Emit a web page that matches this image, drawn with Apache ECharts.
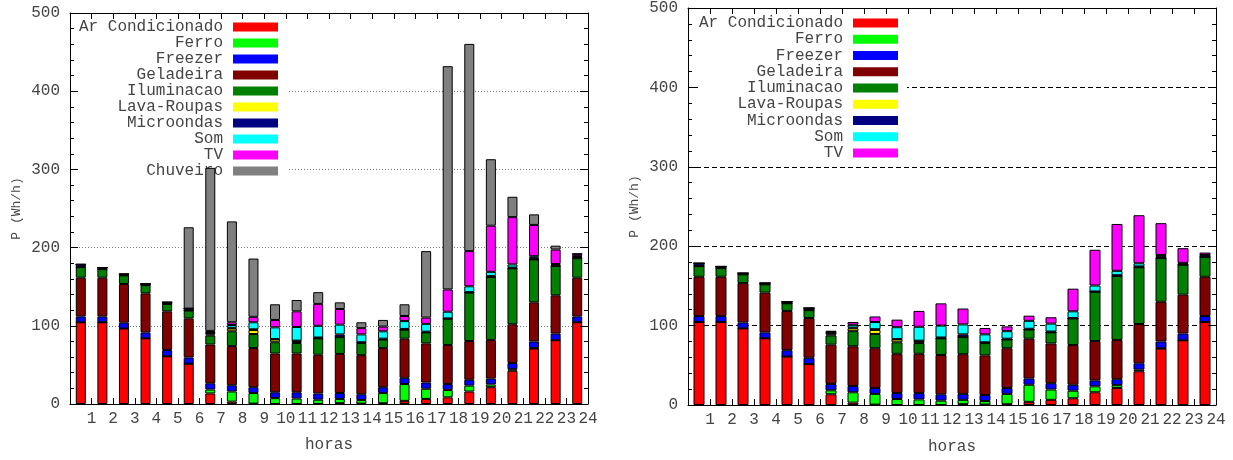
<!DOCTYPE html>
<html><head><meta charset="utf-8">
<script src="https://cdn.jsdelivr.net/npm/echarts@6/dist/echarts.min.js"></script>
<style>html,body{margin:0;padding:0;background:#fff}#c{width:1233px;height:460px}</style>
</head><body><div id="c"></div>
<script>
// ---- data ----
const hours = ['1','2','3','4','5','6','7','8','9','10','11','12','13','14','15','16','17','18','19','20','21','22','23','24'];
const yTicks = [0, 100, 200, 300, 400, 500];
const arCondicionado = [104.5,104.5,96.5,84,61,51.5,13.5,3,0.5,0,0,0,1,0.5,1,4,6.5,8.5,16,21.5,42.5,71,81.5,104.5];
const ferro          = [0,0,0,0,0,0,5,13,13.5,7.5,7,5.5,5.5,4.5,13,21.5,13,9.5,7.5,3.5,2,0.5,0,0];
const freezer        = [7.5,7.5,7.5,7.5,8,8,8,8,7.5,7.5,8,8,7.5,7.5,7.5,8,8,7.5,7.5,7.5,8,8.5,8.5,7.5];
const geladeira      = [49.5,49.5,49.5,50,49.5,50,49.5,50,50,49.5,49.5,49.5,50,50,50,50,50,50,49.5,49.5,49.5,50,49,49.5];
const iluminacao     = [13.5,11,11,10.5,9.5,10,11.5,19,18,14.5,13.5,21,21.5,15.5,11,11.5,14,33.5,62,80.5,71.5,55,37.5,25];
const lavaRoupas     = [0,0,0,0,0,0,1.5,3.5,5,3.5,2.5,0,0,0.5,0,0,0,0,0,0,0,0,0,0];
const microondas     = [3.5,2,1.5,1.5,2,2.5,2.5,1,1,0.5,0.5,1,3.5,0.5,1,1,1,0.5,0.5,1,1,1.5,1.5,2];
const som            = [0,0,0,0,0,0,0.5,3.5,9,15,17.5,15,12.5,10,9.5,10,10,8.5,7.5,5.5,4,2.5,1,0.5];
const tv             = [0,0,0,0,0,0,1.5,3.5,7,9.5,20,28,20,8,6,6.5,8,28.5,45,59,60.5,40,18.5,3];
const chuveiro       = [0,0,0,0,0,104,208.5,129,74.5,20,14.5,15,8.5,7.5,8.5,15,85,285.5,265,85,26,13.5,5,0];

const seriesNames = ['Ar Condicionado','Ferro','Freezer','Geladeira','Iluminacao','Lava-Roupas','Microondas','Som','TV','Chuveiro'];
const seriesValues = [arCondicionado, ferro, freezer, geladeira, iluminacao, lavaRoupas, microondas, som, tv, chuveiro];
const seriesColors = ['#ff0000','#00ff00','#0000ff','#800000','#008000','#ffff00','#000080','#00ffff','#ff00ff','#808080'];

// ---- styling ----
const FONT = 'Liberation Mono';
const TXT = '#444';
const panels = [
  { grid: {left: 70, top: 13, width: 518, height: 391}, n: 10, barWidth: 10,
    split: {color: '#777', type: [1, 2], width: 1},
    legend: {left: 78, top: 13, padding: [6, 9, 8, 1], itemGap: 0},
    xNameGap: 33 },
  { grid: {left: 688, top: 8, width: 528, height: 400}, n: 9, barWidth: 11,
    split: {color: '#000', type: [5, 3], width: 1},
    legend: {left: 698, top: 8, padding: [7, 9, 3, 1], itemGap: 0.25},
    xNameGap: 34 }
];

const option = {animation: false, grid: [], xAxis: [], yAxis: [], legend: [], series: []};
panels.forEach((p, g) => {
  option.grid.push(Object.assign({containLabel: false}, p.grid));
  const tickLine = {lineStyle: {color: '#000', width: 1}};
  const axLine = {show: true, onZero: false, lineStyle: {color: '#000', width: 1}};
  // bar category axis
  option.xAxis.push({gridIndex: g, type: 'category', data: hours, show: false});
  // bottom label axis
  option.xAxis.push({gridIndex: g, type: 'value', position: 'bottom', min: 0, max: hours.length, interval: 1, z: 3,
    axisLine: axLine,
    axisTick: Object.assign({show: true, inside: true, length: 6}, tickLine),
    axisLabel: {formatter: v => (v >= 1 ? hours[v - 1] : ''), color: TXT, fontFamily: FONT, fontSize: 16, margin: 7},
    splitLine: {show: false},
    name: 'horas', nameLocation: 'middle', nameGap: p.xNameGap,
    nameTextStyle: {color: TXT, fontFamily: FONT, fontSize: 16}});
  // top mirror axis
  option.xAxis.push({gridIndex: g, type: 'value', position: 'top', min: 0, max: hours.length, interval: 1, z: 3,
    axisLine: axLine,
    axisTick: Object.assign({show: true, inside: true, length: 6}, tickLine),
    axisLabel: {show: false}, splitLine: {show: false}});
  // grid-line axis
  option.yAxis.push({gridIndex: g, type: 'value', min: yTicks[0], max: yTicks[yTicks.length - 1], interval: 100, z: 0,
    axisLine: {show: false, onZero: false}, axisTick: {show: false}, axisLabel: {show: false},
    splitLine: {show: true, lineStyle: p.split}});
  // left main axis
  option.yAxis.push({gridIndex: g, type: 'value', position: 'left', min: yTicks[0], max: yTicks[yTicks.length - 1], interval: 100, z: 3,
    axisLine: axLine,
    axisTick: Object.assign({show: true, inside: true, length: 8}, tickLine),
    minorTick: {show: true, splitNumber: 5, length: 4, lineStyle: {color: '#000', width: 1}},
    axisLabel: {color: TXT, fontFamily: FONT, fontSize: 16, margin: 10},
    splitLine: {show: false},
    name: 'P (Wh/h)', nameLocation: 'middle', nameRotate: 90, nameGap: 47,
    nameTextStyle: {color: TXT, fontFamily: FONT, fontSize: 13}});
  // right mirror axis
  option.yAxis.push({gridIndex: g, type: 'value', position: 'right', min: yTicks[0], max: yTicks[yTicks.length - 1], interval: 100, z: 3,
    axisLine: axLine,
    axisTick: Object.assign({show: true, inside: true, length: 8}, tickLine),
    minorTick: {show: true, splitNumber: 5, length: 4, lineStyle: {color: '#000', width: 1}},
    axisLabel: {show: false}, splitLine: {show: false}});

  option.legend.push(Object.assign({
    z: 1, orient: 'vertical', align: 'right', itemWidth: 45, itemHeight: 9,
    backgroundColor: '#fff', icon: 'rect', selectedMode: false,
    data: seriesNames.slice(0, p.n),
    itemStyle: {borderWidth: 0},
    textStyle: {fontFamily: FONT, fontSize: 16, color: TXT, lineHeight: 16, padding: [0, 5, 0, 0]}
  }, p.legend));

  for (let s = 0; s < p.n; s++) {
    option.series.push({
      type: 'bar', name: seriesNames[s], xAxisIndex: 3 * g, yAxisIndex: 3 * g + 1,
      stack: 'p' + g, data: seriesValues[s], barWidth: p.barWidth, z: 2,
      itemStyle: {color: seriesColors[s], borderColor: '#000', borderWidth: 1},
      emphasis: {disabled: true}
    });
  }
});

const chart = echarts.init(document.getElementById('c'), null, {renderer: 'canvas'});
chart.setOption(option);
</script>
</body></html>
